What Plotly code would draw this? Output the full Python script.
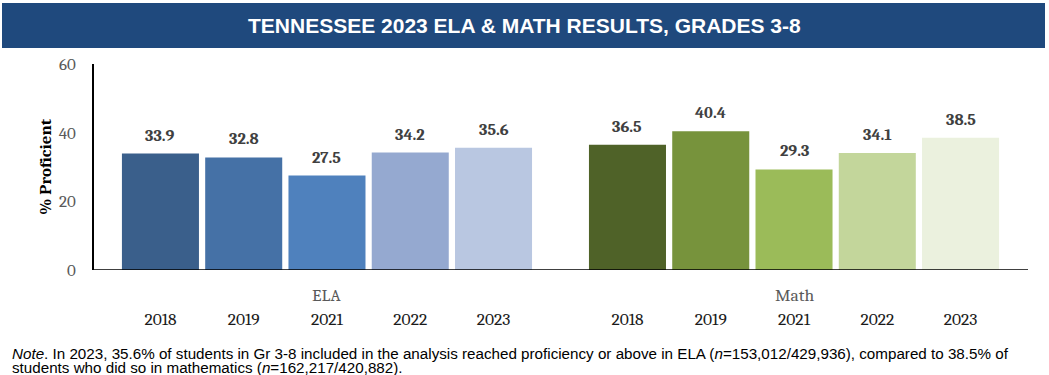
import plotly.graph_objects as go

years = ["2018", "2019", "2021", "2022", "2023"]
ela_values = [33.9, 32.8, 27.5, 34.2, 35.6]
math_values = [36.5, 40.4, 29.3, 34.1, 38.5]
ela_colors = ["#3A5F8B", "#4571A6", "#4F81BD", "#95A9D0", "#B9C7E1"]
math_colors = ["#4F6228", "#77933C", "#9BBB59", "#C3D69B", "#EBF1DE"]
group_labels = ["ELA", "Math"]
title_text = "TENNESSEE 2023 ELA & MATH RESULTS, GRADES 3-8"
note_line1 = ("<i>Note</i>. In 2023, 35.6% of students in Gr 3-8 included in the analysis reached proficiency or above in ELA "
              "(<i>n</i>=153,012/429,936), compared to 38.5% of")
note_line2 = "students who did so in mathematics (<i>n</i>=162,217/420,882)."

SERIF = "Cambria, Caladea, 'DejaVu Serif', serif"
NARROW = "'Arial Narrow', 'Liberation Sans Narrow', 'Liberation Sans', Arial, sans-serif"

PH = 206  # plot height in px
fig = go.Figure()
fig.add_trace(go.Bar(x=years, y=ela_values, marker=dict(color=ela_colors, line=dict(width=0)),
                     xaxis="x", yaxis="y", showlegend=False, hoverinfo="x+y"))
fig.add_trace(go.Bar(x=years, y=math_values, marker=dict(color=math_colors, line=dict(width=0)),
                     xaxis="x2", yaxis="y", showlegend=False, hoverinfo="x+y"))

annotations = []
for xref, vals in (("x", ela_values), ("x2", math_values)):
    for i, v in enumerate(vals):
        annotations.append(dict(text=f"<b>{v:.1f}</b>", x=i, y=v, xref=xref, yref="y",
                                xanchor="center", yanchor="bottom", yshift=7, showarrow=False,
                                font=dict(family=SERIF, size=16.5, color="#404040")))

xcommon = dict(type="category", categoryorder="array", categoryarray=years, range=[-0.5, len(years) - 0.5],
               showline=False, showgrid=False, zeroline=False, ticks="",
               tickfont=dict(family=SERIF, size=17.5, color="#1a1a1a"), ticklabelstandoff=36)
annotations += [
    dict(text=f"<b>{title_text}</b>", xref="paper", yref="paper", x=(524 - 93) / 935, y=(270 - 25) / PH,
         xanchor="center", yanchor="middle", showarrow=False,
         font=dict(family=NARROW, size=21, color="white")),
    dict(text=group_labels[0], xref="paper", yref="paper", x=(0.0276 + 0.4729) / 2, y=-25 / PH,
         xanchor="center", yanchor="middle", showarrow=False,
         font=dict(family=SERIF, size=17.5, color="#595959")),
    dict(text=group_labels[1], xref="paper", yref="paper", x=(0.5271 + 0.9724) / 2, y=-25 / PH,
         xanchor="center", yanchor="middle", showarrow=False,
         font=dict(family=SERIF, size=17.5, color="#595959")),
    dict(text=note_line1, xref="paper", yref="paper", x=-83 / 935, y=-(353 - 270) / PH,
         xanchor="left", yanchor="middle", align="left", showarrow=False,
         font=dict(family=NARROW, size=15.2, color="black")),
    dict(text=note_line2, xref="paper", yref="paper", x=-83 / 935, y=-(367 - 270) / PH,
         xanchor="left", yanchor="middle", align="left", showarrow=False,
         font=dict(family=NARROW, size=15.2, color="black")),
]

fig.update_layout(
    width=1049, height=375,
    margin=dict(l=93, r=21, t=64, b=105),
    paper_bgcolor="white", plot_bgcolor="white",
    bargap=0.075,
    xaxis=dict(domain=[0.0276, 0.4729], anchor="y", **xcommon),
    xaxis2=dict(domain=[0.5271, 0.9724], anchor="y", **xcommon),
    yaxis=dict(range=[0, 60], tickvals=[0, 20, 40, 60], showgrid=False, zeroline=False,
               showline=True, linecolor="black", linewidth=1.5, anchor="free", position=0,
               ticks="", tickfont=dict(family=SERIF, size=17, color="#595959"), ticklabelstandoff=13,
               title=dict(text="<b>% Proficient</b>", font=dict(family=SERIF, size=17, color="black"), standoff=2)),
    shapes=[
        dict(type="rect", xref="paper", yref="paper", x0=-91 / 935, x1=952 / 935, y0=(270 - 3) / PH, y1=(270 - 48) / PH,
             fillcolor="#1F497D", line=dict(width=0), layer="below"),
        dict(type="line", xref="paper", yref="y", x0=0, x1=1, y0=0, y1=0, line=dict(color="black", width=1.5)),
    ],
    annotations=annotations,
)
fig.write_html("out.html", config={"displayModeBar": False},
               post_script="document.body.style.margin='0';document.body.style.padding='0';")
